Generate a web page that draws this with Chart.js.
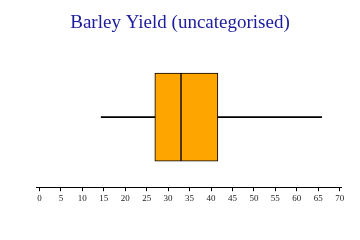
<!DOCTYPE html>
<html>
<head>
<meta charset="utf-8">
<script src="https://cdn.jsdelivr.net/npm/chart.js@4"></script>
<style>
  html, body { margin: 0; padding: 0; background: #fff; }
  #wrap { width: 360px; height: 240px; }
</style>
</head>
<body>
<div id="wrap"><canvas id="myChart" width="360" height="240"></canvas></div>
<script>
// 데이터 (box plot 요약값)
const categories = ['Barley'];
const whiskerLow = [14.4];
const q1 = [26.9];
const median = [33.0];
const q3 = [41.6];
const whiskerHigh = [65.8];
const xTicks = [0, 5, 10, 15, 20, 25, 30, 35, 40, 45, 50, 55, 60, 65, 70];
const titleText = 'Barley Yield (uncategorised)';

const boxColor = '#FFA500';
const serif = '"Liberation Serif", "DejaVu Serif", serif';

// 각 구간을 floating bar 로 만든다
function span(a, b) {
  return categories.map((c, i) => [a[i], b[i]]);
}

const whiskerStyle = {
  backgroundColor: '#000',
  borderWidth: 0,
  barThickness: 1,
  grouped: false
};
const boxStyle = {
  backgroundColor: boxColor,
  borderColor: '#000',
  borderWidth: 1,
  borderSkipped: false,
  barThickness: 88,
  grouped: false
};

// 제목은 캔버스 가운데에 그린다 (chart area 기준이 아님)
const centerTitle = {
  id: 'centerTitle',
  afterDraw(chart) {
    const c = chart.ctx;
    c.save();
    c.font = '19px ' + serif;
    c.fillStyle = '#1c1c9c';
    c.textAlign = 'center';
    c.textBaseline = 'middle';
    c.fillText(titleText, chart.width / 2, 23);
    c.restore();
  }
};

const ctx = document.getElementById('myChart').getContext('2d');
new Chart(ctx, {
  type: 'bar',
  data: {
    labels: categories,
    datasets: [
      Object.assign({ label: 'lowWhisker', data: span(whiskerLow, q1) }, whiskerStyle),
      Object.assign({ label: 'highWhisker', data: span(q3, whiskerHigh) }, whiskerStyle),
      Object.assign({ label: 'lowerBox', data: span(q1, median) }, boxStyle),
      Object.assign({ label: 'upperBox', data: span(median, q3) }, boxStyle)
    ]
  },
  plugins: [centerTitle],
  options: {
    indexAxis: 'y',
    responsive: false,
    animation: false,
    layout: { padding: { left: 36, right: 19, top: 47, bottom: 34 } },
    plugins: {
      legend: { display: false },
      tooltip: { enabled: false },
      title: { display: false }
    },
    scales: {
      x: {
        type: 'linear',
        min: -0.8,
        max: 70.3,
        afterBuildTicks: function (scale) {
          scale.ticks = xTicks.map(v => ({ value: v }));
        },
        grid: {
          drawOnChartArea: false,
          drawTicks: true,
          tickLength: 4,
          color: '#000'
        },
        border: { display: true, color: '#000', width: 1 },
        ticks: {
          color: '#222',
          padding: 2,
          maxRotation: 0,
          autoSkip: false,
          font: { family: serif, size: 9 }
        }
      },
      y: {
        display: false,
        type: 'category'
      }
    }
  }
});
</script>
</body>
</html>
